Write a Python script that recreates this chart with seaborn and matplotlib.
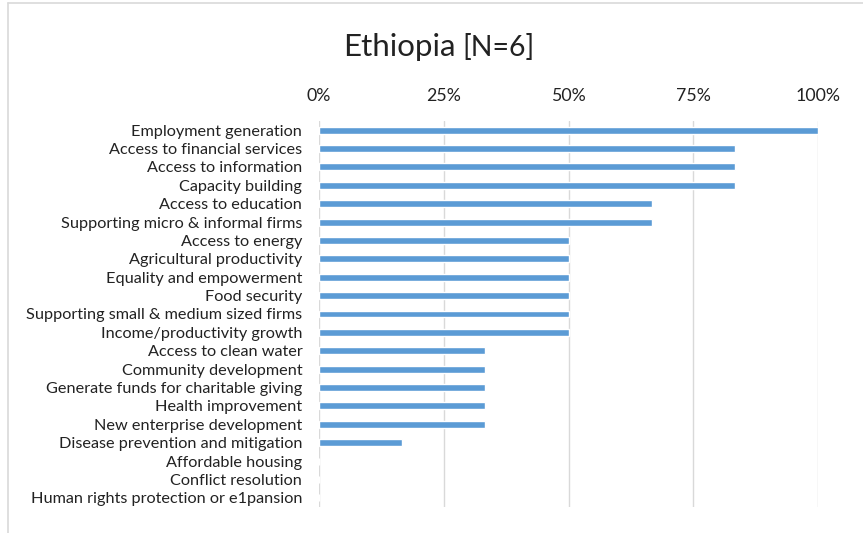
import matplotlib
matplotlib.use("Agg")
import matplotlib.pyplot as plt
import seaborn as sns
import pandas as pd
from matplotlib.lines import Line2D
from matplotlib.ticker import FuncFormatter

categories = [
    "Employment generation",
    "Access to financial services",
    "Access to information",
    "Capacity building",
    "Access to education",
    "Supporting micro & informal firms",
    "Access to energy",
    "Agricultural productivity",
    "Equality and empowerment",
    "Food security",
    "Supporting small & medium sized firms",
    "Income/productivity growth",
    "Access to clean water",
    "Community development",
    "Generate funds for charitable giving",
    "Health improvement",
    "New enterprise development",
    "Disease prevention and mitigation",
    "Affordable housing",
    "Conflict resolution",
    "Human rights protection or e1pansion",
]
counts = [6, 5, 5, 5, 4, 4, 3, 3, 3, 3, 3, 3, 2, 2, 2, 2, 2, 1, 0, 0, 0]
n_total = 6
shares = [c / n_total for c in counts]
x_ticks = [0, 0.25, 0.5, 0.75, 1.0]

df = pd.DataFrame({"category": categories, "share": shares})

sns.set_theme(style="white")
plt.rcParams["font.family"] = ["Lato", "DejaVu Sans"]

fig = plt.figure(figsize=(8.63, 5.33), dpi=100)
ax = fig.add_axes([319 / 863, 1 - 507 / 533, (818 - 319) / 863, (507 - 121) / 533])

sns.barplot(data=df, x="share", y="category", orient="h", color="#5B9BD5",
            width=0.38, saturation=1, ax=ax)

ax.set_xlim(0, 1.0)
ax.set_ylim(len(categories) - 0.5, -0.5)
ax.set_xticks(x_ticks)
ax.xaxis.set_major_formatter(FuncFormatter(lambda v, p: f"{v*100:.0f}%"))
ax.xaxis.tick_top()
ax.tick_params(axis="x", length=0, pad=12, labelsize=12.8, labelcolor="#222222")
ax.tick_params(axis="y", length=0, pad=12, labelsize=11.7, labelcolor="#222222")
ax.set_xlabel("")
ax.set_ylabel("")
ax.grid(axis="x", color="#D9D9D9", linewidth=1)
ax.set_axisbelow(True)
for s in ax.spines.values():
    s.set_visible(False)

# Title
fig.text(343 / 863, 1 - 56 / 533, "Ethiopia", fontsize=22.5, ha="left", va="baseline", color="#222222")
fig.text(462 / 863, 1 - 56 / 533, "[N=6]", fontsize=20.5, ha="left", va="baseline", color="#222222")

# Chart frame
fig.add_artist(Line2D([7.5 / 863, 7.5 / 863], [0, 1 - 3 / 533], transform=fig.transFigure,
                      color="#D9D9D9", linewidth=1.2))
fig.add_artist(Line2D([7.5 / 863, 1], [1 - 3 / 533, 1 - 3 / 533], transform=fig.transFigure,
                      color="#D9D9D9", linewidth=1.2))

fig.savefig("out.png", dpi=100)
